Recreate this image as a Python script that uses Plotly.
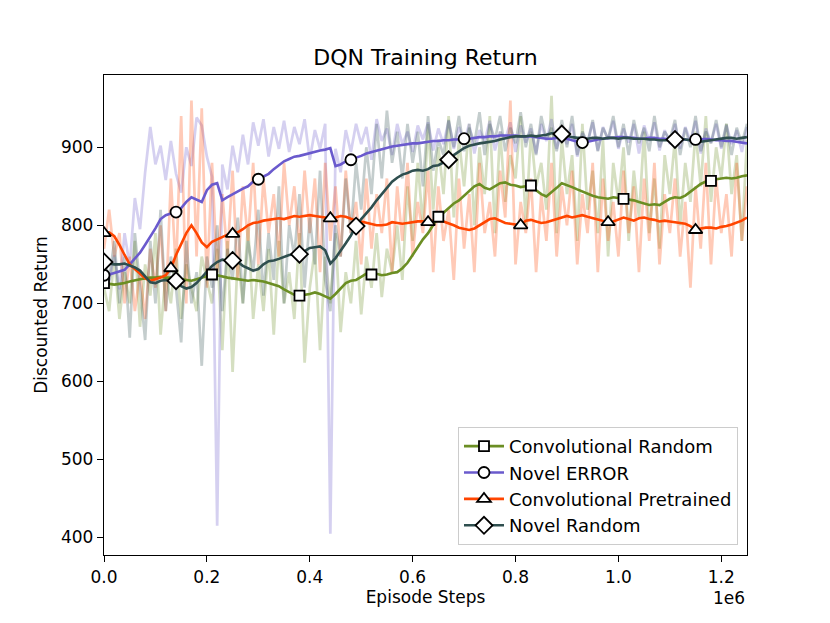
import numpy as np
import plotly.graph_objects as go

# episode steps, one sample every 10k steps
steps = np.arange(0, 1260000, 10000)

# smoothed returns
conv_random = [
    726, 725, 724, 725, 726, 728, 730, 731, 732, 733,
    733, 734, 733, 733, 732, 731, 730, 729, 731, 733,
    735, 737, 736, 734, 733, 732, 731, 730, 729, 730,
    729, 728, 726, 724, 722, 718, 714, 711, 710, 711,
    712, 714, 712, 709, 706, 712, 719, 726, 729, 730,
    734, 738, 737, 738, 736, 737, 739, 740, 745, 752,
    762, 772, 782, 790, 800, 811, 816, 822, 828, 832,
    838, 844, 850, 853, 848, 846, 850, 854, 855, 852,
    851, 849, 850, 851, 845, 840, 837, 842, 848, 854,
    852, 849, 846, 843, 841, 838, 836, 835, 834, 836,
    835, 834, 833, 832, 830, 828, 826, 827, 826, 830,
    834, 836, 835, 838, 843, 849, 853, 856, 857, 859,
    860, 861, 860, 861, 863, 864]
novel_error = [
    736, 737, 739, 741, 743, 750, 757, 765, 775, 785,
    796, 808, 813, 815, 817, 822, 830, 836, 833, 830,
    845, 852, 854, 832, 836, 840, 843, 847, 850, 856,
    859, 862, 866, 872, 877, 882, 885, 888, 889, 891,
    893, 895, 896, 897, 899, 876, 878, 882, 884, 886,
    889, 892, 894, 896, 898, 900, 901, 902, 903, 904,
    905, 905, 906, 907, 908, 908, 909, 909, 910, 910,
    911, 911, 912, 913, 913, 914, 914, 915, 915, 915,
    915, 914, 914, 914, 913, 912, 911, 911, 912, 912,
    911, 909, 907, 906, 907, 909, 910, 911, 912, 912,
    913, 913, 912, 912, 911, 911, 912, 912, 911, 911,
    910, 910, 911, 910, 909, 910, 910, 911, 910, 909,
    909, 908, 908, 907, 906, 905]
conv_pretrained = [
    790, 791, 786, 775, 762, 750, 744, 738, 732, 729,
    731, 733, 736, 745, 762, 775, 790, 800, 790, 778,
    772, 779, 782, 785, 788, 789, 791, 795, 800, 803,
    804, 806, 807, 808, 809, 808, 810, 812, 811, 812,
    813, 812, 811, 810, 809, 810, 812, 811, 808, 806,
    805, 803, 802, 800, 800, 801, 804, 803, 802, 803,
    804, 805, 805, 804, 806, 806, 805, 803, 800, 797,
    795, 794, 796, 800, 803, 808, 809, 806, 803, 802,
    801, 800, 806, 807, 805, 803, 804, 806, 809, 811,
    812, 810, 812, 813, 811, 809, 808, 806, 804, 805,
    808, 810, 808, 806, 809, 810, 808, 807, 805, 806,
    805, 804, 803, 802, 799, 794, 796, 797, 797, 796,
    798, 799, 801, 803, 806, 810]
novel_random = [
    753, 751, 750, 750, 751, 749, 746, 742, 735, 727,
    726, 729, 730, 728, 729, 722, 719, 721, 726, 733,
    741, 748, 753, 756, 755, 755, 753, 748, 745, 742,
    744, 750, 754, 755, 757, 760, 762, 763, 763, 767,
    771, 772, 773, 768, 751, 758, 767, 777, 787, 799,
    808, 815, 823, 832, 840, 849, 856, 861, 865, 867,
    870, 871, 870, 872, 876, 877, 881, 884, 890, 895,
    899, 902, 904, 905, 906, 907, 908, 910, 912, 913,
    914, 914, 914, 915, 914, 915, 916, 918, 918, 917,
    915, 913, 912, 912, 911, 912, 912, 911, 912, 912,
    911, 912, 912, 911, 911, 911, 910, 910, 909, 909,
    909, 910, 911, 910, 909, 908, 907, 908, 909, 910,
    911, 912, 912, 911, 912, 913]

# raw returns
conv_random_raw = [
    720, 690, 760, 680, 740, 700, 780, 670, 750, 710,
    790, 660, 740, 700, 770, 680, 750, 720, 690, 760,
    730, 700, 770, 640, 780, 612, 760, 700, 800, 680,
    750, 690, 770, 660, 780, 700, 740, 680, 790, 624,
    720, 770, 640, 760, 700, 790, 663, 740, 700, 780,
    686, 760, 720, 790, 708, 770, 740, 800, 730, 850,
    780, 880, 800, 930, 820, 900, 840, 940, 810, 910,
    850, 930, 800, 900, 840, 940, 790, 920, 830, 890,
    860, 940, 800, 920, 850, 880, 820, 966, 790, 910,
    840, 890, 780, 930, 820, 870, 790, 910, 760, 880,
    830, 900, 780, 870, 810, 920, 790, 860, 770, 890,
    840, 910, 800, 880, 830, 920, 850, 940, 830, 900,
    860, 930, 840, 890, 780, 910]
novel_error_raw = [
    745, 728, 762, 718, 790, 748, 835, 795, 868, 926,
    878, 902, 858, 908, 866, 842, 900, 876, 938, 928,
    888, 862, 415, 878, 846, 902, 868, 916, 878, 932,
    902, 936, 888, 926, 898, 934, 894, 926, 904, 936,
    884, 922, 898, 930, 405, 898, 868, 922, 894, 930,
    904, 926, 884, 936, 908, 924, 890, 930, 904, 920,
    894, 928, 910, 932, 896, 924, 904, 934, 898, 926,
    906, 930, 892, 922, 908, 934, 896, 920, 910, 932,
    894, 928, 906, 924, 892, 930, 908, 936, 898, 922,
    904, 930, 888, 918, 906, 932, 896, 926, 910, 934,
    898, 924, 906, 930, 892, 928, 908, 932, 896, 922,
    904, 930, 898, 926, 908, 934, 892, 924, 906, 930,
    898, 928, 904, 922, 894, 926]
conv_pretrained_raw = [
    770, 820, 760, 790, 700, 760, 690, 740, 680, 770,
    720, 800, 690, 860, 740, 940, 700, 960, 760, 950,
    720, 880, 740, 840, 760, 870, 730, 850, 780, 880,
    750, 860, 790, 840, 760, 880, 800, 850, 770, 870,
    790, 860, 740, 880, 780, 850, 760, 870, 790, 830,
    750, 860, 770, 840, 790, 860, 740, 850, 780, 880,
    760, 830, 790, 870, 740, 850, 780, 820, 730, 860,
    770, 840, 740, 880, 790, 830, 760, 870, 810, 960,
    750, 830, 790, 860, 740, 840, 780, 880, 760, 850,
    800, 870, 750, 840, 790, 880, 740, 860, 780, 830,
    760, 870, 790, 850, 740, 860, 780, 880, 750, 840,
    790, 860, 760, 830, 720, 850, 770, 880, 750, 860,
    790, 840, 760, 880, 780, 850]
novel_random_raw = [
    760, 730, 780, 700, 760, 656, 790, 720, 653, 780,
    700, 820, 690, 760, 720, 650, 780, 700, 740, 620,
    760, 720, 800, 690, 770, 730, 810, 700, 780, 740,
    820, 710, 790, 730, 850, 700, 800, 760, 840, 720,
    810, 750, 870, 730, 690, 800, 760, 860, 790, 880,
    820, 900, 840, 930, 860, 947, 880, 920, 860, 930,
    880, 920, 850, 940, 870, 910, 890, 935, 900, 940,
    895, 925, 905, 945, 890, 930, 910, 940, 895, 925,
    905, 945, 900, 930, 890, 940, 910, 925, 895, 935,
    900, 940, 890, 920, 905, 935, 895, 925, 910, 940,
    900, 930, 890, 935, 905, 925, 895, 940, 900, 920,
    910, 935, 890, 925, 900, 940, 895, 920, 905, 935,
    900, 930, 890, 925, 905, 930]

# sample indices where matplotlib placed the markers
conv_random_marks = [0, 21, 38, 52, 65, 83, 101, 118]
novel_error_marks = [0, 14, 30, 48, 70, 93, 115]
conv_pretrained_marks = [0, 13, 25, 44, 63, 81, 98, 115]
novel_random_marks = [0, 14, 25, 38, 49, 67, 89, 111]

series = [
    ("Convolutional Random", conv_random, conv_random_raw, conv_random_marks,
     "#6b8e23", "square", 10),
    ("Novel ERROR", novel_error, novel_error_raw, novel_error_marks,
     "#6a5acd", "circle", 11),
    ("Convolutional Pretrained", conv_pretrained, conv_pretrained_raw,
     conv_pretrained_marks, "#ff4500", "triangle-up", 12),
    ("Novel Random", novel_random, novel_random_raw, novel_random_marks,
     "#2f4f4f", "diamond", 13),
]

fig = go.Figure()

for name, smooth, raw, marks, color, symbol, size in series:
    fig.add_trace(go.Scatter(x=steps, y=raw, mode="lines",
                             line=dict(color=color, width=2.7), opacity=0.28,
                             showlegend=False, hoverinfo="skip"))

for name, smooth, raw, marks, color, symbol, size in series:
    fig.add_trace(go.Scatter(x=steps, y=smooth, mode="lines",
                             line=dict(color=color, width=2.6),
                             showlegend=False))

for name, smooth, raw, marks, color, symbol, size in series:
    sm = np.array(smooth)
    fig.add_trace(go.Scatter(
        x=steps[marks], y=sm[marks], mode="markers",
        marker=dict(symbol=symbol, size=size, color="white",
                    line=dict(color="black", width=1.8)),
        showlegend=False))

# legend entries
for name, smooth, raw, marks, color, symbol, size in series:
    fig.add_trace(go.Scatter(
        x=[None], y=[None], mode="lines+markers", name=name, legendgroup=name,
        line=dict(color=color, width=2.6),
        marker=dict(symbol=symbol, size=size, color="white",
                    line=dict(color="black", width=1.8))))

xtick_vals = [0, 200000, 400000, 600000, 800000, 1000000, 1200000]
xtick_text = ["0.0", "0.2", "0.4", "0.6", "0.8", "1.0", "1.2"]

# page body has an 8px margin at top/left, so the figure is 8px smaller
fig.update_layout(
    width=822, height=615,
    margin=dict(l=96, r=83, t=67, b=68),
    paper_bgcolor="white", plot_bgcolor="white",
    font=dict(family="DejaVu Sans", size=17, color="black"),
    title=dict(text="DQN Training Return", x=0.5, xref="paper",
               y=1 - 49 / 615, yanchor="middle", font=dict(size=22)),
    showlegend=True,
    legend=dict(x=0.986, y=0.021, xanchor="right", yanchor="bottom",
                bgcolor="rgba(255,255,255,0.85)", bordercolor="#cccccc",
                borderwidth=1, font=dict(size=18), itemwidth=40,
                traceorder="grouped", tracegroupgap=0),
    xaxis=dict(range=[0, 1250000], tickvals=xtick_vals, ticktext=xtick_text,
               ticks="outside", ticklen=6, tickwidth=1.4, tickcolor="black",
               showline=True, linecolor="black", linewidth=1.4, mirror=True,
               showgrid=False, zeroline=False,
               title=dict(text="Episode Steps", standoff=4,
                          font=dict(size=17))),
    yaxis=dict(range=[377.6, 992.6], tickvals=[400, 500, 600, 700, 800, 900],
               ticks="outside", ticklen=6, tickwidth=1.4, tickcolor="black",
               showline=True, linecolor="black", linewidth=1.4, mirror=True,
               showgrid=False, zeroline=False,
               title=dict(text="Discounted Return", standoff=8,
                          font=dict(size=17))),
)

fig.add_annotation(text="1e6", x=1, y=0, xref="paper", yref="paper",
                   xanchor="right", yanchor="top", yshift=-31,
                   showarrow=False, font=dict(size=17))

fig.write_html("out.html")
